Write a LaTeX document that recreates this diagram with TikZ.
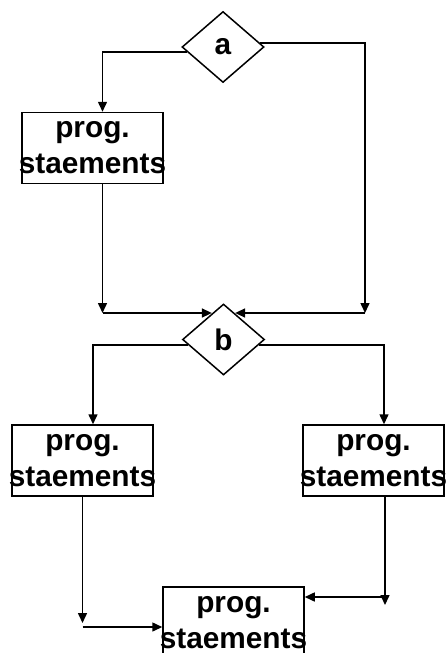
\documentclass[tikz,border=0pt]{standalone}
\usepackage{fontspec}
\setmainfont{Liberation Sans}
\usetikzlibrary{shapes.geometric,arrows.meta}
\begin{document}
\begin{tikzpicture}[x=1pt,y=-1pt,
  line width=1.5pt,
  txt/.style={font=\bfseries\fontsize{29.8}{36}\selectfont, align=center, inner sep=0pt},
  box/.style={draw, minimum width=141pt, minimum height=71pt, inner sep=0pt},
  dia/.style={draw, diamond, minimum width=82pt, minimum height=71pt, inner sep=0pt, font=\bfseries\fontsize{29.8}{36}\selectfont},
  arr/.style={-{Triangle[length=10pt,width=9pt]}}]
\useasboundingbox (0,0) rectangle (445,653);
% decisions
\node[dia] (a) at (223,47) {a};
\node[dia] (b) at (223.5,339.5) {b};
% boxes
\node[box] (p1) at (92.5,148) {};
\node[txt] (t1) at (p1) {prog.\\staements};
\node[box] (p2) at (82.5,460.5) {};
\node[txt] (t2) at (p2) {prog.\\staements};
\node[box] (p3) at (373.5,460.5) {};
\node[txt] (t3) at (p3) {prog.\\staements};
\node[box] (p4) at (233.5,622.5) {};
\node[txt] (t4) at (p4) {prog.\\staements};
% helper coordinates
\coordinate (cR) at (365,313);
\coordinate (cL) at (102.5,313);
\coordinate (dL) at (82.5,623);
\coordinate (dL2) at (82.5,627);
\coordinate (dR) at (385,605);
\coordinate (dR2) at (385,597);
% a branches
\draw[arr] (a.188) -| ([xshift=10pt]p1.north);
\draw[arr] (a.6) -| (cR);
\draw[arr] ([xshift=10pt]p1.south) -- (cL);
\draw[arr] (cR) -- (b.66 |- cR);
\draw[arr] (cL) -- (b.114 |- cL);
% b branches
\draw[arr] (b.189) -| ([xshift=10.5pt]p2.north);
\draw[arr] (b.351) -| ([xshift=10.5pt]p3.north);
% to last box
\draw[arr] (p2.south) -- (dL);
\draw[arr] (dL2) -- (p4.west |- dL2);
\draw[arr] ([xshift=11.5pt]p3.south) -- (dR);
\draw[arr] (dR2) -- (p4.east |- dR2);
\end{tikzpicture}
\end{document}
